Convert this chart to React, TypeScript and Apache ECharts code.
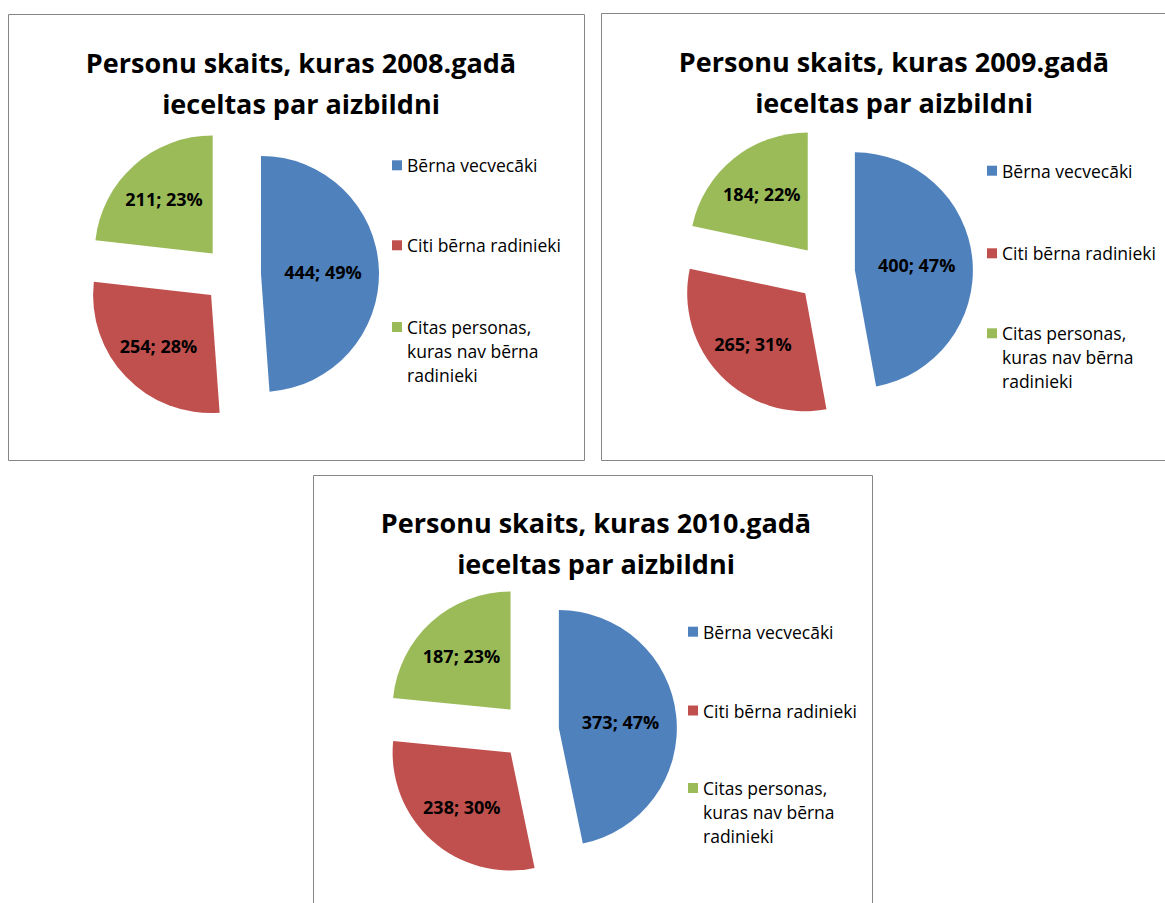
import React, { useEffect, useRef } from "react";
import * as echarts from "echarts";

const years = ["2008", "2009", "2010"];
const categories = [
  "Bērna vecvecāki",
  "Citi bērna radinieki",
  "Citas personas, kuras nav bērna radinieki",
];
const legendLabels = [
  "Bērna vecvecāki",
  "Citi bērna radinieki",
  "Citas personas,\nkuras nav bērna\nradinieki",
];
const vecvecaki = [444, 400, 373];
const radinieki = [254, 265, 238];
const citas = [211, 184, 187];
const colors = ["#4F81BD", "#C0504D", "#9BBB59"];

const FONT = "'Open Sans', Lato, sans-serif";

// layout per panel
const panels = [
  { box: [8.5, 14.5, 576, 446], titleX: 301, titleY: 42, center: [232, 275], legendX: 392, icons: [165.3, 245.3, 327] },
  { box: [601.5, 13.5, 600, 447], titleX: 894, titleY: 41, center: [826, 273], legendX: 987, icons: [170.7, 253.3, 333.3] },
  { box: [313.5, 475.5, 559, 500], titleX: 596, titleY: 502, center: [530, 731], legendX: 688, icons: [631.7, 710.5, 788] },
];
// extra outward push of the smaller slices' labels (px)
const labelPush = [0, 11, 11];

export default function App() {
  const ref = useRef<HTMLDivElement>(null);
  useEffect(() => {
    if (!ref.current) return;
    const chart = echarts.init(ref.current, undefined, { renderer: "svg" });
    const values = [vecvecaki, radinieki, citas];

    const graphic: any[] = [];
    const legends: any[] = [];
    const series: any[] = [];

    panels.forEach((p, i) => {
      graphic.push({
        type: "rect",
        shape: { x: p.box[0], y: p.box[1], width: p.box[2], height: p.box[3] },
        style: { fill: "none", stroke: "#868686", lineWidth: 1 },
        silent: true,
      });
      graphic.push({
        type: "text",
        x: p.titleX,
        y: p.titleY,
        style: {
          text: `Personu skaits, kuras ${years[i]}.gadā\nieceltas par aizbildni`,
          align: "center",
          verticalAlign: "top",
          font: `bold 27px ${FONT}`,
          lineHeight: 41,
          fill: "#000",
        },
        silent: true,
      });

      categories.forEach((c, k) => {
        const lines = legendLabels[k].split("\n").length;
        const extra = lines - 1; // blank lines added above so the icon sits on the first line
        legends.push({
          data: [c],
          left: p.legendX,
          top: p.icons[k] - 12 * (lines + extra),
          orient: "vertical",
          padding: 0,
          itemWidth: 10,
          itemHeight: 10,
          itemGap: 0,
          icon: "rect",
          selectedMode: false,
          formatter: (name: string) => {
            const lbl = legendLabels[categories.indexOf(name)];
            const n = lbl.split("\n").length - 1;
            return "\n".repeat(n) + lbl;
          },
          textStyle: {
            fontFamily: FONT,
            fontSize: 17.5,
            color: "#000",
            lineHeight: 24,
          },
        });
      });

      const total = values.reduce((s, v) => s + v[i], 0);
      let cum = 0;
      const data = categories.map((c, k) => {
        const v = values[k][i];
        const mid = ((cum + v / 2) / total) * Math.PI * 2;
        cum += v;
        const push = labelPush[k];
        const dx = push * Math.sin(mid);
        const dy = -push * Math.cos(mid);
        const sp = Math.round(Math.abs(2 * dy));
        return {
          name: c,
          value: v,
          selected: true,
          itemStyle: { color: colors[k] },
          label: push
            ? {
                padding: [0, Math.max(0, -2 * dx), 0, Math.max(0, 2 * dx)],
                formatter:
                  dy > 0 ? "{sp|}\n{t|{c}; {d}%}" : "{t|{c}; {d}%}\n{sp|}",
                rich: {
                  sp: { lineHeight: sp, height: sp, fontSize: 1 },
                  t: {
                    fontFamily: FONT,
                    fontWeight: "bold",
                    fontSize: 18,
                    color: "#000",
                    lineHeight: 22,
                  },
                },
              }
            : undefined,
        };
      });

      series.push({
        type: "pie",
        name: years[i],
        center: p.center,
        radius: 118,
        startAngle: 90,
        clockwise: true,
        selectedMode: "multiple",
        selectedOffset: 29,
        percentPrecision: 0,
        avoidLabelOverlap: false,
        emphasis: { disabled: true },
        label: {
          show: true,
          position: "inside",
          formatter: "{c}; {d}%",
          fontFamily: FONT,
          fontWeight: "bold",
          fontSize: 18,
          color: "#000",
        },
        labelLine: { show: false },
        itemStyle: { borderWidth: 0 },
        data,
      });
    });

    chart.setOption({
      animation: false,
      backgroundColor: "#fff",
      color: colors,
      legend: legends,
      series,
      graphic,
    });
    return () => chart.dispose();
  }, []);
  return (
    <div
      ref={ref}
      style={{ position: "absolute", left: 0, top: 0, width: 1165, height: 903 }}
    />
  );
}
